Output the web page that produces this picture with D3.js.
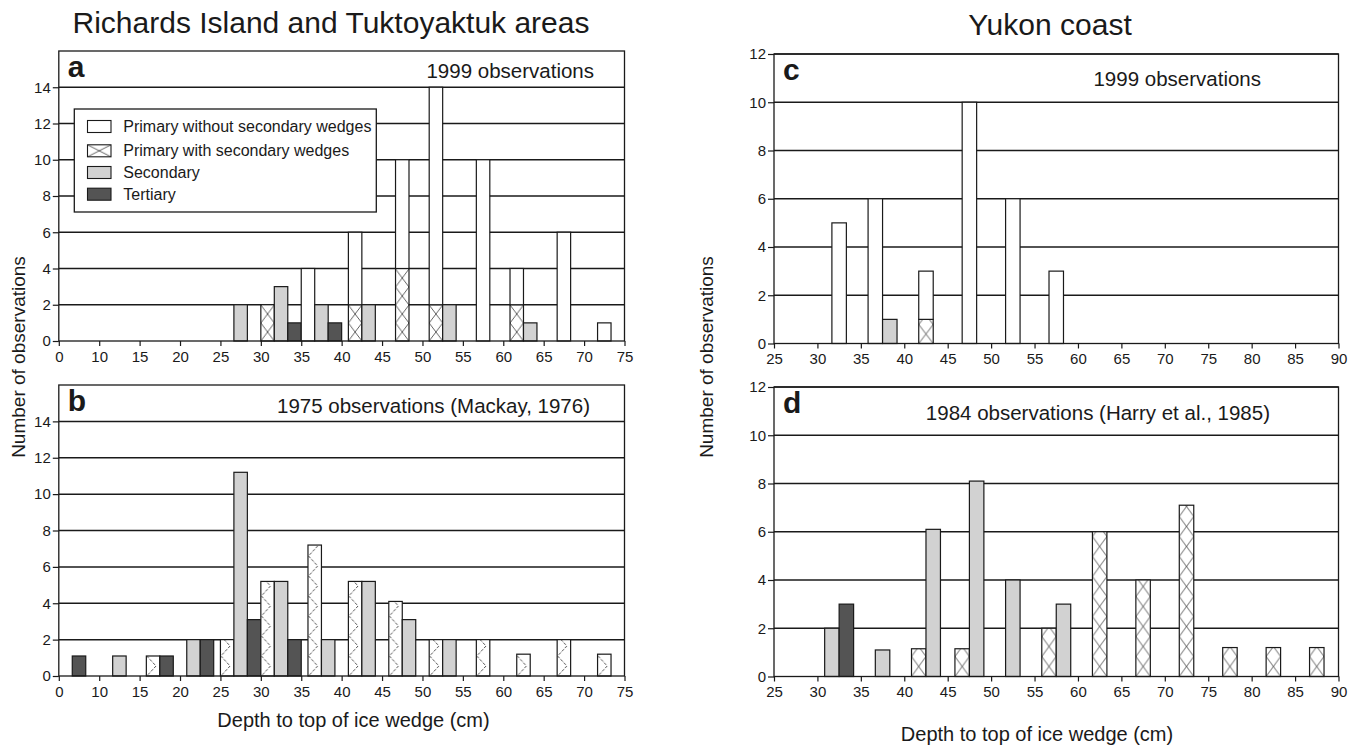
<!DOCTYPE html>
<html><head><meta charset="utf-8">
<script src="https://cdn.jsdelivr.net/npm/d3@7"></script>
<style>
body{margin:0;background:#fff}
svg{display:block}
text{font-family:"Liberation Sans",Arial,Helvetica,sans-serif;fill:#1a1a1a}
</style>
</head><body>
<svg id="chart" width="1359" height="747"></svg>
<script>
// ---------- DATA ----------
const binsLeft  = [7.5,12.5,17.5,22.5,27.5,32.5,37.5,42.5,47.5,52.5,57.5,62.5,67.5,72.5];
const binsRight = [27.5,32.5,37.5,42.5,47.5,52.5,57.5,62.5,67.5,72.5,77.5,82.5,87.5];

const xTickValuesLeft  = [5,10,15,20,25,30,35,40,45,50,55,60,65,70,75];
const xTickLabelsLeft  = ["0","10","15","20","25","30","35","40","45","50","55","60","65","70","75"];
const xTickValuesRight = [25,30,35,40,45,50,55,60,65,70,75,80,85,90];
const xTickLabelsRight = ["25","30","35","40","45","50","55","60","65","70","75","80","85","90"];
const yTicksLeft  = [0,2,4,6,8,10,12,14];
const yTicksRight = [0,2,4,6,8,10,12];

// Panel a: Richards Island / Tuktoyaktuk, 1999
const withoutA = [0,0,0,0,0,0,4,4,6,12,10,2,6,1];
const withA    = [0,0,0,0,0,2,0,2,4,2,0,2,0,0];
const secA     = [0,0,0,0,2,3,2,2,0,2,0,1,0,0];
const terA     = [0,0,0,0,0,1,1,0,0,0,0,0,0,0];
// Panel b: 1975 (Mackay, 1976)
const withoutB = [0,0,0,0,0,0,0,0,0,0,0,0,0,0];
const withB    = [0,0,1.1,0,2,5.2,7.2,5.2,4.1,2,2,1.2,2,1.2];
const secB     = [0,1.1,0,2,11.2,5.2,2,5.2,3.1,2,0,0,0,0];
const terB     = [1.1,0,1.1,2,3.1,2,0,0,0,0,0,0,0,0];
// Panel c: Yukon coast, 1999
const withoutC = [0,5,6,2,10,6,3,0,0,0,0,0,0];
const withC    = [0,0,0,1,0,0,0,0,0,0,0,0,0];
const secC     = [0,0,1,0,0,0,0,0,0,0,0,0,0];
const terC     = [0,0,0,0,0,0,0,0,0,0,0,0,0];
// Panel d: 1984 (Harry et al., 1985)
const withoutD = [0,0,0,0,0,0,0,0,0,0,0,0,0];
const withD    = [0,0,0,1.15,1.15,0,2,6,4,7.1,1.2,1.2,1.2];
const secD     = [0,2,1.1,6.1,8.1,4,3,0,0,0,0,0,0];
const terD     = [0,3,0,0,0,0,0,0,0,0,0,0,0];

const legendLabels = ["Primary without secondary wedges","Primary with secondary wedges","Secondary","Tertiary"];
const titles = ["Richards Island and Tuktoyaktuk areas","Yukon coast"];
const yLabel = "Number of observations";
const xLabel = "Depth to top of ice wedge (cm)";

// ---------- LAYOUT ----------
const C_SEC = "#d2d2d2", C_TER = "#545454", C_LINE = "#1a1a1a";
const panels = [
  {letter:"a", note:"1999 observations", noteX:594, noteY:78, bins:binsLeft, wo:withoutA, wi:withA, se:secA, te:terA,
   xd:[5,75], xr:[58.8,624.5], yd:[0,16], yr:[341,51], xtv:xTickValuesLeft, xtl:xTickLabelsLeft, yt:yTicksLeft, hatch:"x", period:18},
  {letter:"b", note:"1975 observations (Mackay, 1976)", noteX:590, noteY:413, bins:binsLeft, wo:withoutB, wi:withB, se:secB, te:terB,
   xd:[5,75], xr:[58.8,624.5], yd:[0,16], yr:[676,385], xtv:xTickValuesLeft, xtl:xTickLabelsLeft, yt:yTicksLeft, hatch:"zig", period:20},
  {letter:"c", note:"1999 observations", noteX:1261, noteY:86, bins:binsRight, wo:withoutC, wi:withC, se:secC, te:terC,
   xd:[25,90], xr:[774,1338.5], yd:[0,12], yr:[343.5,54], xtv:xTickValuesRight, xtl:xTickLabelsRight, yt:yTicksRight, hatch:"x", period:19},
  {letter:"d", note:"1984 observations (Harry et al., 1985)", noteX:1270, noteY:420, bins:binsRight, wo:withoutD, wi:withD, se:secD, te:terD,
   xd:[25,90], xr:[774,1338.5], yd:[0,12], yr:[676.5,387], xtv:xTickValuesRight, xtl:xTickLabelsRight, yt:yTicksRight, hatch:"x", period:20}
];

const svg = d3.select("#chart");
svg.append("rect").attr("width",1359).attr("height",747).attr("fill","#fff");
const defs = svg.append("defs");
let patId = 0;

function makePattern(type, x0, y0, w, period){
  const id = "hp" + (patId++);
  const p = defs.append("pattern").attr("id", id).attr("patternUnits","userSpaceOnUse")
    .attr("x", x0).attr("y", y0).attr("width", w).attr("height", period);
  p.append("rect").attr("width", w).attr("height", period).attr("fill", "#fff");
  if (type === "x") {
    p.append("path").attr("d", `M0,0L${w},${period}M${w},0L0,${period}`)
      .attr("stroke", "#3a3a3a").attr("stroke-width", 0.8).attr("fill","none");
  } else {
    p.append("path").attr("d", `M0.5,0L${w*0.72},${period/2}L0.5,${period}`)
      .attr("stroke", "#3a3a3a").attr("stroke-width", 0.9).attr("fill","none")
      .attr("stroke-dasharray","3,1.5");
  }
  return "url(#" + id + ")";
}

panels.forEach(P => {
  const x = d3.scaleLinear().domain(P.xd).range(P.xr);
  const y = d3.scaleLinear().domain(P.yd).range(P.yr);
  const g = svg.append("g");
  const [x0, x1] = P.xr, [yb, yt] = P.yr;

  // gridlines
  g.selectAll("line.grid").data(P.yt.filter(v => v > 0)).enter().append("line")
    .attr("x1", x0).attr("x2", x1).attr("y1", d => y(d)).attr("y2", d => y(d))
    .attr("stroke", C_LINE).attr("stroke-width", 1.5);

  // bars
  const bw = (x(P.xd[0] + 5) - x(P.xd[0])) / 3;
  P.bins.forEach((c, i) => {
    const items = [];
    if (P.wo[i] + P.wi[i] > 0) items.push("p");
    if (P.se[i] > 0) items.push("s");
    if (P.te[i] > 0) items.push("t");
    const start = x(c) - items.length * bw / 2;
    items.forEach((k, j) => {
      const bx = start + j * bw;
      if (k === "p") {
        if (P.wi[i] > 0) {
          const fill = makePattern(P.hatch, bx, y(0), bw, P.period);
          g.append("rect").attr("x", bx).attr("y", y(P.wi[i])).attr("width", bw)
            .attr("height", y(0) - y(P.wi[i])).attr("fill", fill)
            .attr("stroke", C_LINE).attr("stroke-width", 1.2);
        }
        if (P.wo[i] > 0) {
          const top = P.wi[i] + P.wo[i];
          g.append("rect").attr("x", bx).attr("y", y(top)).attr("width", bw)
            .attr("height", y(P.wi[i]) - y(top)).attr("fill", "#fff")
            .attr("stroke", C_LINE).attr("stroke-width", 1.2);
        }
      } else {
        const v = k === "s" ? P.se[i] : P.te[i];
        g.append("rect").attr("x", bx).attr("y", y(v)).attr("width", bw)
          .attr("height", y(0) - y(v)).attr("fill", k === "s" ? C_SEC : C_TER)
          .attr("stroke", C_LINE).attr("stroke-width", 1.2);
      }
    });
  });

  // frame
  g.append("rect").attr("x", x0).attr("y", yt).attr("width", x1 - x0).attr("height", yb - yt)
    .attr("fill", "none").attr("stroke", C_LINE).attr("stroke-width", 1.3);

  // axes
  const xa = g.append("g").attr("transform", `translate(0,${yb})`)
    .call(d3.axisBottom(x).tickValues(P.xtv).tickFormat((d, i) => P.xtl[i]).tickSize(5).tickPadding(5));
  const ya = g.append("g").attr("transform", `translate(${x0},0)`)
    .call(d3.axisLeft(y).tickValues(P.yt).tickFormat(d3.format("d")).tickSize(6).tickPadding(2));
  [xa, ya].forEach(a => {
    a.attr("font-size", 15).attr("font-family", '"Liberation Sans",Arial,sans-serif');
    a.select(".domain").remove();
    a.selectAll(".tick line").attr("stroke", C_LINE).attr("stroke-width", 1.2);
    a.selectAll(".tick text").attr("font-size", 15).attr("fill", "#1a1a1a");
  });

  // panel letter and note
  g.append("text").attr("x", x0 + 9).attr("y", yt + 26).attr("font-size", 30).attr("font-weight", "bold").text(P.letter);
  g.append("text").attr("x", P.noteX).attr("y", P.noteY).attr("text-anchor", "end").attr("font-size", 20.5).text(P.note);

  // legend in panel a
  if (P.letter === "a") {
    const lg = g.append("g");
    lg.append("rect").attr("x", 74.3).attr("y", 109).attr("width", 302).attr("height", 103)
      .attr("fill", "#fff").attr("stroke", C_LINE).attr("stroke-width", 1.3);
    const rowsY = [126.5, 150.8, 172.5, 194.2];
    legendLabels.forEach((lab, i) => {
      const sy = rowsY[i] - 6, sx = 87.5, sw = 23.5, sh = 12;
      let fill = "#fff";
      if (i === 1) fill = makePattern("x", sx, sy, sw, sh);
      if (i === 2) fill = C_SEC;
      if (i === 3) fill = C_TER;
      lg.append("rect").attr("x", sx).attr("y", sy).attr("width", sw).attr("height", sh)
        .attr("fill", fill).attr("stroke", C_LINE).attr("stroke-width", 1.1);
      lg.append("text").attr("x", 123.3).attr("y", rowsY[i] + 5.6).attr("font-size", 16).text(lab);
    });
  }
});

// titles and axis labels
svg.append("text").attr("x", 331).attr("y", 33).attr("text-anchor", "middle").attr("font-size", 30).text(titles[0]);
svg.append("text").attr("x", 1050).attr("y", 35).attr("text-anchor", "middle").attr("font-size", 30).text(titles[1]);
svg.append("text").attr("transform", "translate(25,357) rotate(-90)").attr("text-anchor", "middle").attr("font-size", 19).text(yLabel);
svg.append("text").attr("transform", "translate(713,357) rotate(-90)").attr("text-anchor", "middle").attr("font-size", 19).text(yLabel);
svg.append("text").attr("x", 353.5).attr("y", 727).attr("text-anchor", "middle").attr("font-size", 20).text(xLabel);
svg.append("text").attr("x", 1037).attr("y", 741).attr("text-anchor", "middle").attr("font-size", 20).text(xLabel);
</script>
</body></html>
